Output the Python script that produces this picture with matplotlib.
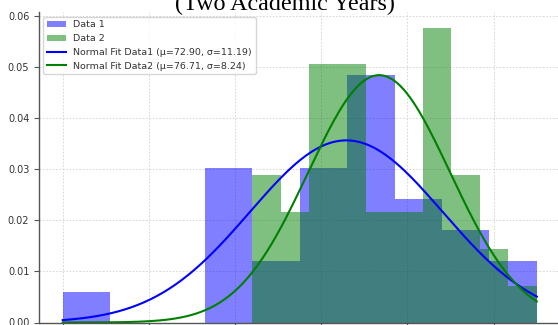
import numpy as np
import matplotlib
matplotlib.use("Agg")
import matplotlib.pyplot as plt

# ---- data ----
bins1 = [40.0, 45.5, 51.0, 56.5, 62.0, 67.5, 73.0, 78.5, 84.0, 89.5, 95.0]
counts1 = [1, 0, 0, 5, 2, 5, 8, 4, 3, 2]
bins2 = [62.0, 65.3, 68.6, 71.9, 75.2, 78.5, 81.8, 85.1, 88.4, 91.7, 95.0]
counts2 = [4, 3, 7, 7, 3, 3, 8, 4, 2, 1]
mu1, sigma1 = 72.90, 11.19
mu2, sigma2 = 76.71, 8.24
fit_range = [40.0, 95.0]
title_text = "(Two Academic Years)"

W, H = 558, 325
fig = plt.figure(figsize=(W / 100, H / 100), dpi=100)
left, right, top, bottom = 39.0, 560.5, 12.4, 322.5
ax = fig.add_axes([left / W, (H - bottom) / H, (right - left) / W, (bottom - top) / H])

centers1 = [(a + b) / 2 for a, b in zip(bins1[:-1], bins1[1:])]
centers2 = [(a + b) / 2 for a, b in zip(bins2[:-1], bins2[1:])]
ax.hist(centers1, bins=bins1, weights=counts1, density=True, alpha=0.5,
        color="blue", label="Data 1")
ax.hist(centers2, bins=bins2, weights=counts2, density=True, alpha=0.5,
        color="green", label="Data 2")

x = np.linspace(fit_range[0], fit_range[1], 300)
pdf1 = np.exp(-0.5 * ((x - mu1) / sigma1) ** 2) / (sigma1 * np.sqrt(2 * np.pi))
pdf2 = np.exp(-0.5 * ((x - mu2) / sigma2) ** 2) / (sigma2 * np.sqrt(2 * np.pi))
ax.plot(x, pdf1, color="blue", lw=1.5,
        label=f"Normal Fit Data1 (\u03bc={mu1:.2f}, \u03c3={sigma1:.2f})")
ax.plot(x, pdf2, color="green", lw=1.5,
        label=f"Normal Fit Data2 (\u03bc={mu2:.2f}, \u03c3={sigma2:.2f})")

ax.set_xlim(37.25, 97.75)
ax.set_ylim(0, 0.0607)
ax.set_xticks([40, 50, 60, 70, 80, 90])
ax.set_yticks([0.0, 0.01, 0.02, 0.03, 0.04, 0.05, 0.06])
ax.yaxis.set_major_formatter(matplotlib.ticker.FormatStrFormatter("%.2f"))
ax.grid(True, color="#d0d0d0", linestyle=(0, (2, 2)), linewidth=0.6)
ax.set_axisbelow(True)
for s in ["top", "right"]:
    ax.spines[s].set_visible(False)
for s in ["left", "bottom"]:
    ax.spines[s].set_color("#555555")
    ax.spines[s].set_linewidth(1.0)
ax.tick_params(axis="both", colors="#555555", labelcolor="#333333",
               labelsize=7, length=3.5, width=0.8, direction="out")
ax.tick_params(axis="x", labelbottom=False)

leg = ax.legend(loc="upper left", fontsize=6.8, frameon=True,
                borderaxespad=0.45)
leg.get_frame().set_edgecolor("#cccccc")
for t in leg.get_texts():
    t.set_color("#333333")

fig.text(285 / W, (H - 10) / H, title_text, ha="center", va="baseline",
         fontsize=17.4, family="Liberation Serif", color="black")

fig.savefig("out.png", dpi=100)
